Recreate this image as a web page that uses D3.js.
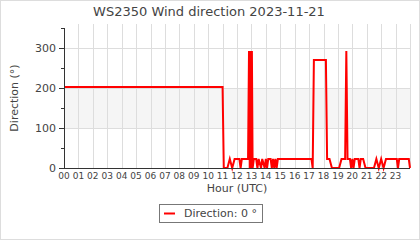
<!DOCTYPE html>
<html><head><meta charset="utf-8">
<script src="https://cdn.jsdelivr.net/npm/d3@7"></script>
<style>body{margin:0;background:#fff}svg{display:block}text{font-family:"DejaVu Sans",sans-serif;fill:#444}</style>
</head><body><svg id="c" width="420" height="240"></svg>
<script>
const times = ["00:00","11:00","11:05","11:20","11:30","11:40","11:50","12:10","12:15","12:20","12:40","12:46","12:50","12:53","12:56","12:59","13:02","13:05","13:10","13:15","13:20","13:25","13:30","13:40","13:45","13:55","14:00","14:05","14:10","14:20","14:25","14:30","14:35","14:40","14:45","14:50","17:10","17:15","17:20","18:10","18:15","18:25","18:35","19:05","19:15","19:30","19:35","19:40","19:50","19:55","20:00","20:05","20:10","20:25","20:30","20:35","20:45","20:55","21:30","21:40","21:50","22:00","22:10","22:20","23:05","23:10","23:15","23:55","24:00"];
const directions = [202.5,202.5,0,0,22.5,0,22.5,22.5,0,22.5,22.5,22.5,292.5,0,292.5,0,292.5,0,22.5,22.5,22.5,0,22.5,0,22.5,0,22.5,0,22.5,22.5,0,22.5,0,22.5,0,22.5,22.5,0,270,270,22.5,22.5,0,0,22.5,22.5,292.5,22.5,22.5,0,22.5,0,22.5,22.5,0,22.5,22.5,0,0,22.5,0,22.5,0,22.5,22.5,0,22.5,22.5,0];
const hourLabels = ["00","01","02","03","04","05","06","07","08","09","10","11","12","13","14","15","16","17","18","19","20","21","22","23"];
const yTicks = [0,100,200,300];
const yMinor = [50,150,250,350];
const bandRange = [100,200];
const title = "WS2350 Wind direction 2023-11-21";
const legendText = "Direction: 0 °";

const svg = d3.select("#c");
svg.append("rect").attr("x",0.5).attr("y",0.5).attr("width",419).attr("height",239).attr("fill","#fff").attr("stroke","#ddd");

const L=64, R=410, T=24, B=168;
const x = d3.scaleLinear().domain([0,24]).range([L,R]);
const y = d3.scaleLinear().domain([0,360]).range([B,T]);
const toH = s => { const [h,m] = s.split(":").map(Number); return h + m/60; };
const data = times.map((t,i)=>({h:toH(t), v:directions[i]}));

svg.append("rect").attr("x",L).attr("width",R-L).attr("y",y(bandRange[1])).attr("height",y(bandRange[0])-y(bandRange[1])).attr("fill","#f5f5f5");
const g = svg.append("g").attr("stroke","#ddd").attr("stroke-width",1);
d3.range(1,25).forEach(h=>g.append("line").attr("x1",Math.round(x(h))+0.5).attr("x2",Math.round(x(h))+0.5).attr("y1",T).attr("y2",B));
yTicks.slice(1).forEach(v=>g.append("line").attr("x1",L).attr("x2",R).attr("y1",Math.round(y(v))+0.5).attr("y2",Math.round(y(v))+0.5));

svg.append("path").datum(data).attr("fill","none").attr("stroke","#ff0000").attr("stroke-width",2)
  .attr("stroke-linejoin","miter")
  .attr("d", d3.line().x(d=>x(d.h)).y(d=>y(d.v)));

const ya = svg.append("g");
ya.append("line").attr("x1",L+0.5).attr("x2",L+0.5).attr("y1",Math.round(y(350))).attr("y2",B+0.5).attr("stroke","#333");
yTicks.forEach(v=>{
  const yy=Math.round(y(v))+0.5;
  ya.append("line").attr("x1",L-5).attr("x2",L).attr("y1",yy).attr("y2",yy).attr("stroke","#333");
  ya.append("text").attr("x",L-8).attr("y",yy).attr("dy","0.35em").attr("text-anchor","end").attr("font-size",11).text(v);
});
yMinor.forEach(v=>{
  const yy=Math.round(y(v))+0.5;
  ya.append("line").attr("x1",L-3).attr("x2",L).attr("y1",yy).attr("y2",yy).attr("stroke","#333");
});
svg.append("line").attr("x1",L).attr("x2",R).attr("y1",B+0.5).attr("y2",B+0.5).attr("stroke","#333");
hourLabels.forEach((lab,i)=>{
  svg.append("text").attr("x",x(i)).attr("y",179).attr("text-anchor","middle").attr("font-size",9).text(lab);
});
svg.append("text").attr("x",237).attr("y",192).attr("text-anchor","middle").attr("font-size",11).text("Hour (UTC)");
svg.append("text").attr("transform","translate(18,98) rotate(-90)").attr("text-anchor","middle").attr("font-size",11).text("Direction (°)");
svg.append("text").attr("x",209).attr("y",16).attr("text-anchor","middle").attr("font-size",13).text(title);

svg.append("rect").attr("x",159.5).attr("y",204.5).attr("width",103).attr("height",18).attr("fill","#fff").attr("stroke","#777");
svg.append("line").attr("x1",164).attr("x2",175).attr("y1",213.5).attr("y2",213.5).attr("stroke","#ff0000").attr("stroke-width",2);
svg.append("text").attr("x",184).attr("y",213.5).attr("dy","0.35em").attr("font-size",11).text(legendText);
</script></body></html>
